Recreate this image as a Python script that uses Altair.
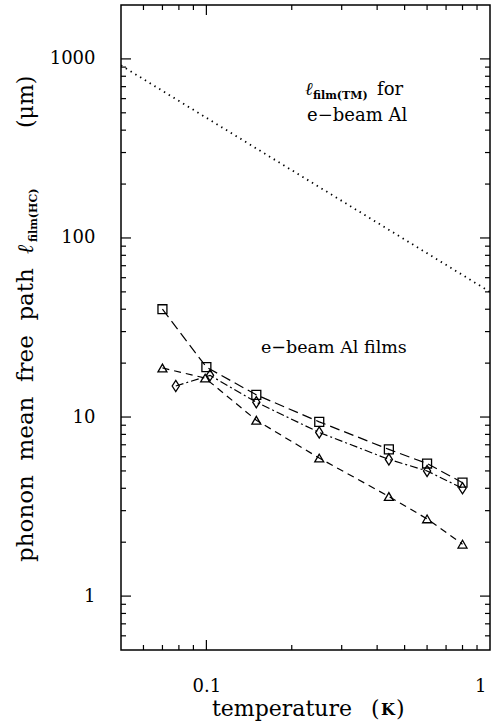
import altair as alt
import pandas as pd

# ---- data ----
T_sq = [0.07, 0.10, 0.15, 0.25, 0.44, 0.60, 0.80]
L_sq = [40.0, 19.0, 13.3, 9.4, 6.6, 5.5, 4.3]
T_di = [0.078, 0.103, 0.15, 0.25, 0.44, 0.60, 0.80]
L_di = [14.9, 17.1, 12.1, 8.2, 5.8, 5.0, 4.0]
T_tr = [0.07, 0.099, 0.15, 0.25, 0.44, 0.60, 0.80]
L_tr = [18.8, 16.5, 9.6, 5.9, 3.6, 2.7, 1.95]
T_tm = [0.05, 1.0]
L_tm = [920.0, 50.0]

x_labels = [0.1, 1]
x_major = [0.1]
x_minor = [0.06, 0.07, 0.08, 0.09, 0.2, 0.3, 0.4, 0.5, 0.6, 0.7, 0.8, 0.9]
y_major = [1, 10, 100, 1000]
y_minor = [0.6, 0.7, 0.8, 0.9, 2, 3, 4, 5, 6, 7, 8, 9,
           20, 30, 40, 50, 60, 70, 80, 90, 200, 300, 400, 500, 600, 700, 800, 900]

W, H = 369, 645
FONT = "DejaVu Serif"

rows = []
for name, ts, ls in [("sq", T_sq, L_sq), ("di", T_di, L_di), ("tr", T_tr, L_tr)]:
    for t, l in zip(ts, ls):
        rows.append({"x": t, "y": l, "s": name})
df = pd.DataFrame(rows)
df_tm = pd.DataFrame({"x": T_tm, "y": L_tm})

xscale = alt.Scale(type="log", domain=[0.05, 1], nice=False)
yscale = alt.Scale(type="log", domain=[0.5, 2000], nice=False)

xaxis = alt.Axis(values=x_labels, format="~g", title=None, domain=False, ticks=False,
                 labelFont=FONT, labelFontSize=18, labelColor="black", labelPadding=27,
                 labelFlush=True, labelFlushOffset=-4, grid=False)
yaxis = alt.Axis(values=y_major, format="~g", title=None, domain=False, ticks=False,
                 labelFont=FONT, labelFontSize=18, labelColor="black", labelPadding=26,
                 labelFlush=False, grid=False)

base_x = alt.X("x:Q", scale=xscale, axis=xaxis)
base_y = alt.Y("y:Q", scale=yscale, axis=yaxis)

series_order = ["sq", "di", "tr"]
dash = alt.StrokeDash("s:N", scale=alt.Scale(domain=series_order,
                      range=[[10, 5], [8, 3, 2, 3], [7, 5]]), legend=None)
diamond = "M0,-1.25L0.8,0L0,1.25L-0.8,0Z"
shape = alt.Shape("s:N", scale=alt.Scale(domain=series_order,
                  range=["square", diamond, "triangle-up"]), legend=None)

lines = alt.Chart(df).mark_line(color="black", strokeWidth=1.2, clip=True).encode(
    x=base_x, y=base_y, detail="s:N", strokeDash=dash, order="x:Q")

points = alt.Chart(df).mark_point(color="black", filled=False, strokeWidth=1.3,
                                  size=80, opacity=1).encode(
    x=base_x, y=base_y, shape=shape)

tm_line = alt.Chart(df_tm).mark_line(color="black", strokeWidth=1.8,
                                     strokeDash=[1.4, 4.2], clip=True).encode(
    x=base_x, y=base_y)

# inward ticks on all four sides
def xticks(vals, length):
    d = pd.DataFrame({"x": vals})
    bot = alt.Chart(d).mark_rule(color="black", strokeWidth=1.2).encode(
        x=base_x, y=alt.value(H), y2=alt.value(H - length))
    top = alt.Chart(d).mark_rule(color="black", strokeWidth=1.2).encode(
        x=base_x, y=alt.value(0), y2=alt.value(length))
    return [bot, top]

def yticks(vals, length):
    d = pd.DataFrame({"y": vals})
    left = alt.Chart(d).mark_rule(color="black", strokeWidth=1.2).encode(
        y=base_y, x=alt.value(0), x2=alt.value(length))
    right = alt.Chart(d).mark_rule(color="black", strokeWidth=1.2).encode(
        y=base_y, x=alt.value(W), x2=alt.value(W - length))
    return [left, right]

ticks = xticks(x_major, 10) + xticks(x_minor, 5) + yticks(y_major, 10) + yticks(y_minor, 5)

# text pieces (page pixel positions relative to plot origin 121,5)
OX, OY = 121, 5
XT = 716  # baseline of x title
normal_txt = pd.DataFrame([
    {"t": "for", "px": 377 - OX, "py": 95 - OY, "a": 0, "fs": 18},
    {"t": "e\u2212beam Al", "px": 307 - OX, "py": 121 - OY, "a": 0, "fs": 18},
    {"t": "e\u2212beam Al films", "px": 261 - OX, "py": 353 - OY, "a": 0, "fs": 17.5},
    {"t": "temperature", "px": 212 - OX, "py": XT - OY, "a": 0, "fs": 22},
    {"t": "(", "px": 371 - OX, "py": XT - OY, "a": 0, "fs": 22},
    {"t": ")", "px": 396 - OX, "py": XT - OY, "a": 0, "fs": 22},
    {"t": "phonon\u00a0 mean\u00a0 free\u00a0 path", "px": 33 - OX, "py": 562 - OY, "a": 270, "fs": 23},
    {"t": "(\u03bcm)", "px": 33 - OX, "py": 128 - OY, "a": 270, "fs": 22},
])
bold_txt = pd.DataFrame([
    {"t": "film(TM)", "px": 313 - OX, "py": 99 - OY, "a": 0, "fs": 11},
    {"t": "film(HC)", "px": 37 - OX, "py": 242 - OY, "a": 270, "fs": 11},
    {"t": "K", "px": 381 - OX, "py": XT - 1 - OY, "a": 0, "fs": 16},
])
ital_txt = pd.DataFrame([
    {"t": "\u2113", "px": 305 - OX, "py": 95 - OY, "a": 0, "fs": 18},
    {"t": "\u2113", "px": 33 - OX, "py": 254 - OY, "a": 270, "fs": 22},
])

def text_layer(d, **kw):
    return alt.Chart(d).mark_text(align="left", baseline="alphabetic", font=FONT,
                                  color="black", **kw).encode(
        x=alt.X("px:Q", scale=None, axis=None), y=alt.Y("py:Q", scale=None, axis=None),
        text="t:N", angle=alt.Angle("a:Q", scale=None),
        size=alt.Size("fs:Q", scale=None))

texts = [text_layer(normal_txt), text_layer(bold_txt, fontWeight="bold"),
         text_layer(ital_txt, fontStyle="italic")]

chart = alt.layer(tm_line, lines, points, *ticks, *texts).properties(
    width=W, height=H,
    padding={"left": 121, "top": 5, "right": 3, "bottom": 75},
    autosize=alt.AutoSizeParams(type="none"),
).configure_view(stroke="black", strokeWidth=1.5).configure_axis(grid=False)

chart.save("out.html", embed_options={"renderer": "svg", "actions": False})
